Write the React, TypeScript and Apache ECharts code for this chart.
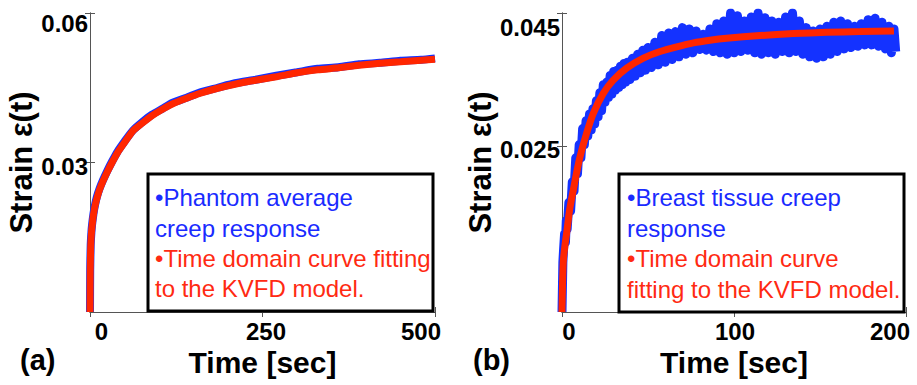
import React, { useEffect, useRef } from "react";
import * as echarts from "echarts";

// ---- Panel (a): phantom ----
const leftTime = [0, 0.3, 1, 2, 3, 5, 7, 10, 14, 19, 25, 32, 40, 50, 62, 75, 90, 105, 120, 140, 160, 185, 210, 240, 270, 300, 330, 360, 390, 420, 450, 480, 500];
const leftFit = [0, 0.008, 0.013, 0.0157, 0.0172, 0.0195, 0.0211, 0.0228, 0.0246, 0.0263, 0.0281, 0.03, 0.032, 0.034, 0.0363, 0.0378, 0.0394, 0.0407, 0.0418, 0.0429, 0.0439, 0.0449, 0.0457, 0.0465, 0.0472, 0.048, 0.0486, 0.049, 0.0495, 0.0499, 0.0502, 0.0505, 0.0507];
const leftData = [0, 0.0085, 0.0134, 0.0159, 0.0175, 0.0197, 0.0213, 0.0231, 0.0248, 0.0265, 0.0283, 0.0302, 0.0322, 0.0342, 0.0364, 0.038, 0.0396, 0.0408, 0.042, 0.043, 0.0441, 0.045, 0.0459, 0.0466, 0.0474, 0.0481, 0.0488, 0.0491, 0.0497, 0.05, 0.0504, 0.0506, 0.0509];
const leftXTicks = [0, 250, 500];
const leftYTicks = [0.03, 0.06];

// ---- Panel (b): breast tissue ----
const rightFitTime = [0, 0.3, 0.8, 1.7, 2.7, 4.5, 6.6, 8.5, 10.5, 14.3, 18.2, 24, 29.8, 37.6, 47.3, 57, 66.7, 76.4, 86, 95.7, 115, 134.5, 153.9, 173.3, 193];
const rightFit = [0, 0.004, 0.0078, 0.01, 0.0119, 0.0155, 0.0184, 0.021, 0.0234, 0.0269, 0.0299, 0.0329, 0.0349, 0.0367, 0.0382, 0.0392, 0.0399, 0.0405, 0.0409, 0.0412, 0.0416, 0.0419, 0.0421, 0.0422, 0.0423];
const rightDataTime = [
  0, 0.5, 1, 1.5, 2, 2.5, 3, 4, 5, 6, 7, 8, 9, 10, 11, 12, 13, 14, 15, 16, 17, 18, 19, 20, 21, 22, 23, 24, 25, 26, 27, 28, 29, 30,
  31, 32, 33, 34, 35, 36, 37, 38, 39.5, 41, 42.5, 44, 45.5, 47, 48.5, 50, 52, 54, 56, 58, 60, 62, 64, 66, 68, 70, 72, 74, 76, 78,
  80, 82, 84, 86, 88, 90, 92, 94, 96, 98, 100, 102, 104, 106, 108, 110, 112, 114, 116, 118, 120, 122, 124, 126, 128, 130, 132, 134,
  136, 138, 140, 142, 144, 146, 148, 150, 152, 154, 156, 158, 160, 162, 164, 166, 168, 170, 172, 174, 176, 178, 180, 182, 184, 186,
  188, 190, 191.5, 193, 194,
];
const rightData = [
  0, 0.0075, 0.0098, 0.0118, 0.0105, 0.0138, 0.0125, 0.0165, 0.0152, 0.0196, 0.0182, 0.0232, 0.0208, 0.0252, 0.0232, 0.0276, 0.0252,
  0.0288, 0.0265, 0.0298, 0.0274, 0.0306, 0.0283, 0.0318, 0.0294, 0.033, 0.0303, 0.0342, 0.0316, 0.0346, 0.0323, 0.0356, 0.0328,
  0.0362, 0.0334, 0.0364, 0.0338, 0.037, 0.0342, 0.0374, 0.0346, 0.0376, 0.035, 0.0382, 0.0355, 0.0388, 0.036, 0.0394, 0.0364,
  0.0398, 0.0368, 0.0406, 0.0372, 0.0416, 0.0376, 0.042, 0.038, 0.0422, 0.0384, 0.0428, 0.0388, 0.0426, 0.039, 0.0423, 0.0395,
  0.0418, 0.0394, 0.0426, 0.0392, 0.0434, 0.039, 0.0438, 0.0388, 0.045, 0.039, 0.0446, 0.0392, 0.0438, 0.0394, 0.0444, 0.039,
  0.045, 0.0388, 0.0443, 0.039, 0.0438, 0.0388, 0.0436, 0.0392, 0.0444, 0.039, 0.045, 0.0392, 0.0438, 0.0388, 0.0428, 0.0384,
  0.0423, 0.0382, 0.0426, 0.0384, 0.043, 0.0388, 0.0436, 0.0392, 0.0438, 0.0396, 0.0434, 0.0398, 0.043, 0.04, 0.0434, 0.0402,
  0.044, 0.0402, 0.0442, 0.04, 0.0436, 0.0396, 0.043, 0.039, 0.0426, 0.0392,
];
const rightXTicks = [0, 100, 200];
const rightYTicks = [0.025, 0.045];

const legendLeft = ["•Phantom average", "creep response", "•Time domain curve fitting", "to the KVFD model."];
const legendRight = ["•Breast tissue creep", "response", "•Time domain curve", "fitting to the KVFD model."];

const BLUE = "#1432ff";
const RED = "#ff2600";
const TXT_BLUE = "#1a2bff";
const TXT_RED = "#ff2a12";
const FONT = '"Liberation Sans", Arial, sans-serif';
const AXIS = "#555";

const zip = (xs: number[], ys: number[]) => xs.map((x, i) => [x, ys[i]]);

export default function App() {
  const ref = useRef<HTMLDivElement>(null);
  useEffect(() => {
    if (!ref.current) return;
    const chart = echarts.init(ref.current, undefined, { renderer: "svg" });

    const tickLabelBase = {
      fontFamily: FONT,
      fontWeight: "bold" as const,
      fontSize: 24,
      color: "#000",
    };

    const mkX = (grid: number, ticks: number[], max: number, pads: number[][]) => [
      {
        type: "value",
        gridIndex: grid,
        min: 0,
        max,
        position: "bottom",
        name: "Time [sec]",
        nameLocation: "middle",
        nameGap: 31,
        nameTextStyle: { fontFamily: FONT, fontWeight: "bold", fontSize: 30, color: "#000" },
        axisLine: { show: true, lineStyle: { color: AXIS, width: 1 } },
        axisTick: { show: true, inside: true, length: 5, customValues: ticks, lineStyle: { color: AXIS } },
        splitLine: { show: false },
        axisLabel: {
          ...tickLabelBase,
          margin: 7,
          customValues: ticks,
          formatter: (v: number) => {
            const i = ticks.indexOf(v);
            return `{p${i}|${v}}`;
          },
          rich: {
            p0: { ...tickLabelBase, padding: pads[0] },
            p1: { ...tickLabelBase, padding: pads[1] },
            p2: { ...tickLabelBase, padding: pads[2] },
          },
        },
      },
      {
        type: "value",
        gridIndex: grid,
        min: 0,
        max,
        position: "top",
        axisLine: { show: true, lineStyle: { color: AXIS, width: 1 } },
        axisTick: { show: true, inside: true, length: 5, customValues: ticks, lineStyle: { color: AXIS } },
        axisLabel: { show: false },
        splitLine: { show: false },
      },
    ];

    const mkY = (grid: number, ticks: number[], max: number, gap: number, pads: number[][]) => [
      {
        type: "value",
        gridIndex: grid,
        min: 0,
        max,
        position: "left",
        name: "Strain ε(t)",
        nameLocation: "middle",
        nameGap: gap,
        nameRotate: 90,
        nameTextStyle: { fontFamily: FONT, fontWeight: "bold", fontSize: 31, color: "#000" },
        axisLine: { show: true, lineStyle: { color: AXIS, width: 1 } },
        axisTick: { show: true, inside: true, length: 5, customValues: ticks, lineStyle: { color: AXIS } },
        splitLine: { show: false },
        axisLabel: {
          ...tickLabelBase,
          margin: 2,
          customValues: ticks,
          formatter: (v: number) => {
            const i = ticks.indexOf(v);
            return `{p${i}|${v}}`;
          },
          rich: {
            p0: { ...tickLabelBase, padding: pads[0] },
            p1: { ...tickLabelBase, padding: pads[1] },
          },
        },
      },
      {
        type: "value",
        gridIndex: grid,
        min: 0,
        max,
        position: "right",
        axisLine: { show: true, lineStyle: { color: AXIS, width: 1 } },
        axisTick: { show: true, inside: true, length: 5, customValues: ticks, lineStyle: { color: AXIS } },
        axisLabel: { show: false },
        splitLine: { show: false },
      },
    ];

    const legendTexts = (lines: string[], x: number, ys: number[]) =>
      lines.map((t, i) => ({
        type: "text",
        x,
        y: ys[i],
        z: 101,
        style: {
          text: t,
          fill: i < 2 ? TXT_BLUE : TXT_RED,
          font: `24px ${FONT}`,
          verticalAlign: "middle",
          align: "left",
        },
      }));

    const option: any = {
      animation: false,
      backgroundColor: "#fff",
      grid: [
        { left: 90, top: 13, width: 345, height: 299 },
        { left: 562, top: 13, width: 344, height: 299 },
      ],
      xAxis: [
        ...mkX(0, leftXTicks, 500, [[0, 0, 0, 23], [0, 0, 0, 7], [0, 28, 0, 0]]),
        ...mkX(1, rightXTicks, 200, [[0, 0, 0, 14], [0, 0, 0, 2], [0, 32, 0, 0]]),
      ],
      yAxis: [
        ...mkY(0, leftYTicks, 0.06, 44, [[8, 0, 0, 0], [20, 0, 0, 0]]),
        ...mkY(1, rightYTicks, 0.045, 64, [[8, 0, 0, 0], [28, 0, 0, 0]]),
      ],
      series: [
        {
          type: "line",
          xAxisIndex: 0,
          yAxisIndex: 0,
          data: zip(leftTime, leftData),
          showSymbol: false,
          smooth: 0.2,
          lineStyle: { color: BLUE, width: 8 },
          z: 2,
        },
        {
          type: "line",
          xAxisIndex: 0,
          yAxisIndex: 0,
          data: zip(leftTime, leftFit),
          showSymbol: false,
          smooth: 0.2,
          lineStyle: { color: RED, width: 7 },
          z: 3,
        },
        {
          type: "line",
          xAxisIndex: 2,
          yAxisIndex: 2,
          data: zip(rightDataTime, rightData),
          showSymbol: false,
          lineStyle: { color: BLUE, width: 9, join: "round" },
          z: 2,
        },
        {
          type: "line",
          xAxisIndex: 2,
          yAxisIndex: 2,
          data: zip(rightFitTime, rightFit),
          showSymbol: false,
          smooth: 0.2,
          lineStyle: { color: RED, width: 7 },
          z: 3,
        },
      ],
      graphic: [
        {
          type: "rect",
          z: 100,
          shape: { x: 148, y: 174, width: 285, height: 137 },
          style: { fill: "#fff", stroke: "#000", lineWidth: 3 },
        },
        {
          type: "rect",
          z: 100,
          shape: { x: 619, y: 174, width: 285, height: 138 },
          style: { fill: "#fff", stroke: "#000", lineWidth: 3 },
        },
        ...legendTexts(legendLeft, 155, [197, 228, 258, 288]),
        ...legendTexts(legendRight, 627, [197, 228, 258, 289]),
        {
          type: "text",
          x: 20,
          y: 360,
          z: 101,
          style: { text: "(a)", fill: "#000", font: `bold 29px ${FONT}`, verticalAlign: "middle" },
        },
        {
          type: "text",
          x: 473,
          y: 360,
          z: 101,
          style: { text: "(b)", fill: "#000", font: `bold 29px ${FONT}`, verticalAlign: "middle" },
        },
      ],
    };
    chart.setOption(option);
    return () => chart.dispose();
  }, []);
  return <div ref={ref} style={{ width: 917, height: 385, position: "absolute", left: 0, top: 0 }} />;
}
